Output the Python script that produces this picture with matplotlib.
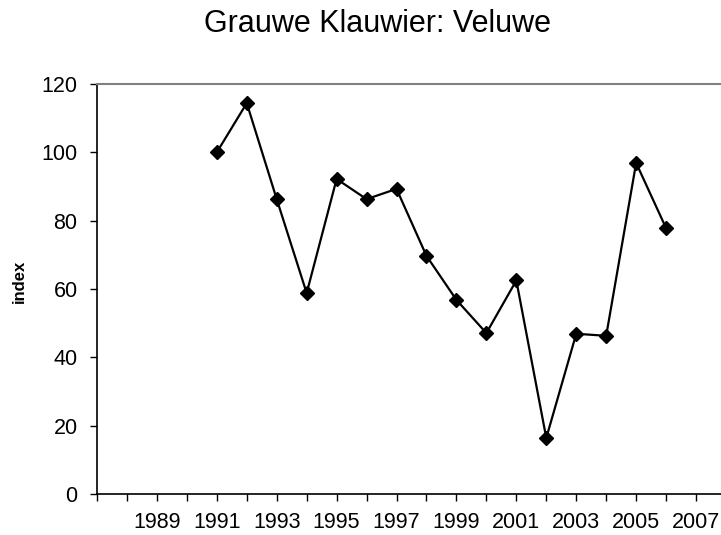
import matplotlib.pyplot as plt

plt.rcParams['font.family'] = ['Liberation Sans', 'DejaVu Sans']

# index values per year
years = [1991, 1992, 1993, 1994, 1995, 1996, 1997, 1998, 1999, 2000,
         2001, 2002, 2003, 2004, 2005, 2006]
index = [100, 114.4, 86.3, 58.8, 92.2, 86.3, 89.3, 69.7, 56.8, 47.1,
         62.5, 16.4, 46.9, 46.3, 96.9, 77.8]

tick_years = list(range(1987, 2009))
label_years = list(range(1989, 2008, 2))

fig = plt.figure(figsize=(7.21, 5.35), dpi=100)
ax = fig.add_axes([97 / 721, 41 / 535, 629 / 721, 410 / 535])

ax.plot(years, index, color='black', linewidth=1.6, marker='D',
        markersize=6.8, markerfacecolor='black', markeredgecolor='black',
        clip_on=False)

ax.set_xlim(1987, 2008)
ax.set_ylim(0, 120)
ax.set_yticks(range(0, 121, 20))
ax.set_xticks(tick_years)
ax.set_xticklabels([str(y) if y in label_years else '' for y in tick_years])

ax.tick_params(axis='both', direction='out', length=5, width=1,
               colors='black', labelsize=15.5)
ax.tick_params(axis='y', pad=9)
ax.tick_params(axis='x', pad=8)

ax.spines['right'].set_visible(False)
ax.spines['top'].set_color('#808080')
ax.spines['top'].set_linewidth(1.5)
ax.spines['left'].set_linewidth(1.2)
ax.spines['bottom'].set_linewidth(1.2)

fig.text(19 / 721, 1 - 281 / 535, 'index', fontsize=12, fontweight='bold',
         rotation=90, ha='center', va='center')
fig.text(377 / 721, 1 - 24 / 535, 'Grauwe Klauwier: Veluwe', fontsize=22,
         ha='center', va='center')

fig.savefig('out.png', dpi=100)
